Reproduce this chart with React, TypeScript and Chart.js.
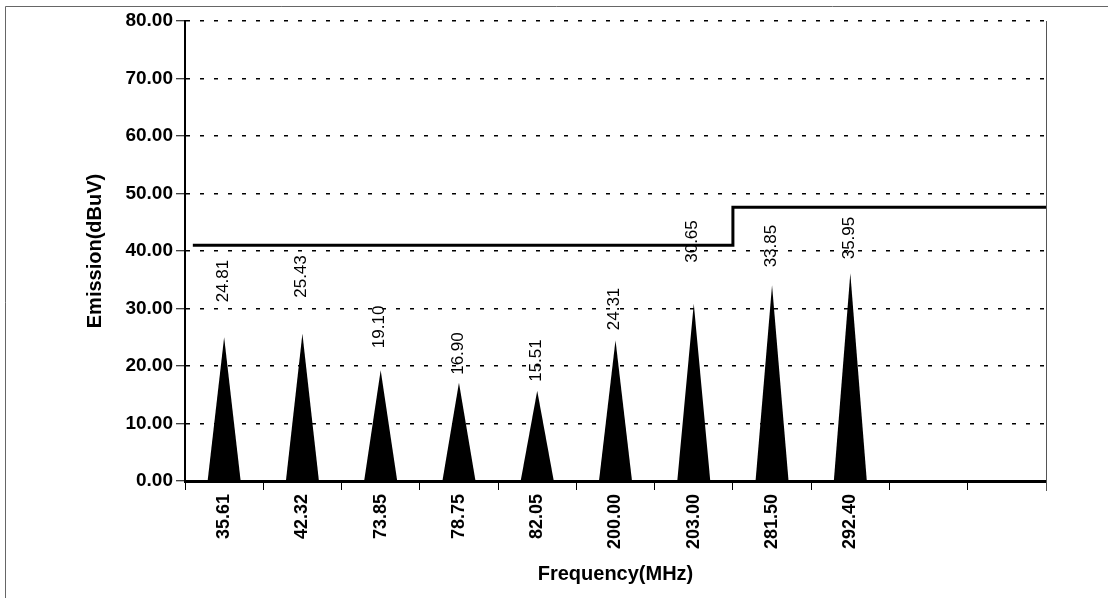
import React, { useEffect, useRef } from "react";
import { Chart, registerables } from "chart.js";

Chart.register(...registerables);

const categories = ["35.61", "42.32", "73.85", "78.75", "82.05", "200.00", "203.00", "281.50", "292.40", "", ""];
const emission = [24.81, 25.43, 19.1, 16.9, 15.51, 24.31, 30.65, 33.85, 35.95, null, null];
const limitX = [-0.4, 6.5, 6.5, 10.5];
const limitY = [41, 41, 47.6, 47.6];
const yMin = 0;
const yMax = 80;
const yStep = 10;

const FONT = "'Liberation Sans', Arial, sans-serif";

const spikePlugin = {
  id: "spikes",
  beforeDraw(chart: any) {
    const ctx = chart.ctx;
    ctx.save();
    ctx.strokeStyle = "#666";
    ctx.lineWidth = 1;
    ctx.beginPath();
    ctx.moveTo(5.5, 598);
    ctx.lineTo(5.5, 6.5);
    ctx.lineTo(1108, 6.5);
    ctx.stroke();
    ctx.restore();
  },
  beforeDatasetsDraw(chart: any) {
    const ctx = chart.ctx;
    const meta = chart.getDatasetMeta(0);
    ctx.save();
    ctx.fillStyle = "#000";
    meta.data.forEach((bar: any, i: number) => {
      if (emission[i] == null) return;
      const { x, y, base, width } = bar.getProps(["x", "y", "base", "width"], true);
      ctx.beginPath();
      ctx.moveTo(x - width / 2, base);
      ctx.lineTo(x, y - 1);
      ctx.lineTo(x + width / 2, base);
      ctx.closePath();
      ctx.fill();
    });
    const a = chart.chartArea;
    ctx.strokeStyle = "#555";
    ctx.lineWidth = 1;
    ctx.beginPath();
    ctx.moveTo(a.right + 0.5, a.top);
    ctx.lineTo(a.right + 0.5, a.bottom + 10);
    ctx.stroke();
    ctx.restore();
  },
  afterDatasetsDraw(chart: any, _args: any, opts: any) {
    const ctx = chart.ctx;
    const meta = chart.getDatasetMeta(0);
    const lift: number[] = opts.lift || [];
    ctx.save();
    ctx.fillStyle = "#000";
    ctx.font = `17px ${FONT}`;
    ctx.textAlign = "left";
    ctx.textBaseline = "middle";
    meta.data.forEach((bar: any, i: number) => {
      const v = emission[i];
      if (v == null) return;
      const { x, y } = bar.getProps(["x", "y"], true);
      ctx.save();
      ctx.translate(x - 1, y - (lift[i] ?? 12) - 2);
      ctx.rotate(-Math.PI / 2);
      ctx.fillText(v.toFixed(2), 0, 0);
      ctx.restore();
    });
    ctx.restore();
  },
};

export default function App() {
  const ref = useRef<HTMLCanvasElement>(null);
  useEffect(() => {
    document.body.style.margin = "0";
    const chart = new Chart(ref.current as HTMLCanvasElement, {
      type: "bar",
      data: {
        labels: categories,
        datasets: [
          {
            type: "bar",
            data: emission as any,
            backgroundColor: "rgba(0,0,0,0)",
            borderWidth: 0,
            barPercentage: 0.42,
            categoryPercentage: 1,
            grouped: false,
            xAxisID: "x",
          } as any,
          {
            type: "line",
            data: limitX.map((x, i) => ({ x, y: limitY[i] })) as any,
            borderColor: "#000",
            borderWidth: 3,
            pointRadius: 0,
            fill: false,
            tension: 0,
            xAxisID: "xl",
          } as any,
        ],
      },
      plugins: [spikePlugin],
      options: {
        animation: false,
        responsive: false,
        layout: { padding: { left: 83, top: 21, right: 62, bottom: 13 } },
        plugins: {
          legend: { display: false },
          tooltip: { enabled: false },
          spikes: { lift: [34, 35, 21, 7, 8, 9, 40, 17, 13] },
        } as any,
        scales: {
          x: {
            type: "category",
            offset: true,
            afterFit: (s: any) => {
              s.height = 105;
            },
            grid: {
              offset: true,
              drawOnChartArea: false,
              drawTicks: true,
              tickLength: 9,
              tickColor: "#000",
              tickWidth: 1,
            },
            border: { display: true, color: "#000", width: 3 },
            ticks: {
              color: "#000",
              font: { family: FONT, size: 18, weight: "bold" },
              minRotation: 90,
              maxRotation: 90,
              autoSkip: false,
              padding: 4,
            },
            title: {
              display: true,
              text: "Frequency(MHz)",
              color: "#000",
              font: { family: FONT, size: 20, weight: "bold" },
              padding: 0,
            },
          },
          xl: {
            type: "linear",
            min: -0.5,
            max: 10.5,
            offset: false,
            display: false,
            grid: { offset: false },
          } as any,
          y: {
            min: yMin,
            max: yMax,
            afterFit: (s: any) => {
              s.width = 102;
            },
            ticks: {
              stepSize: yStep,
              color: "#000",
              font: { family: FONT, size: 19, weight: "bold" },
              callback: (v: any) => Number(v).toFixed(2),
              padding: 3,
            },
            grid: {
              color: "#000",
              lineWidth: 1.5,
              tickLength: 9,
              tickColor: "#000",
              tickBorderDash: [],
              tickWidth: 1,
            },
            border: { display: true, color: "#000", width: 2, dash: [4, 10] },
            title: {
              display: true,
              text: "Emission(dBuV)",
              color: "#000",
              font: { family: FONT, size: 20, weight: "bold" },
              padding: 0,
            },
          },
        },
      },
    });
    return () => chart.destroy();
  }, []);
  return <canvas ref={ref} width={1108} height={599} style={{ display: "block" }} />;
}
